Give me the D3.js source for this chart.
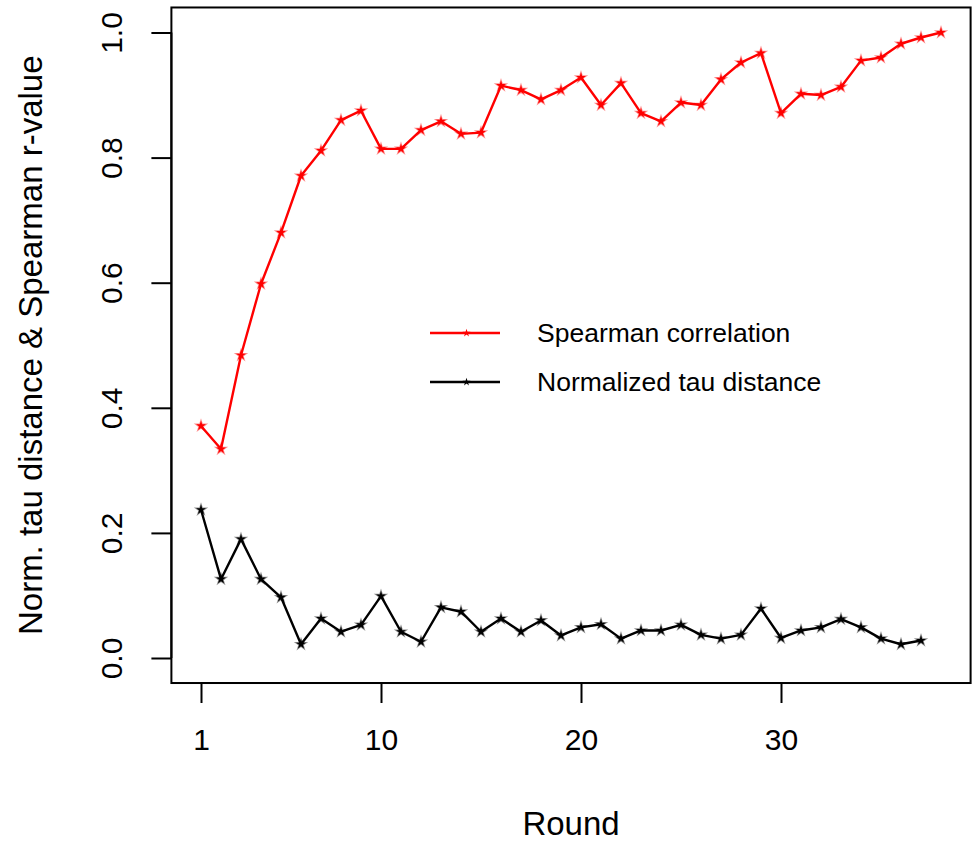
<!DOCTYPE html>
<html>
<head>
<meta charset="utf-8">
<script src="https://cdn.jsdelivr.net/npm/d3@7"></script>
<style>
  html, body { margin: 0; padding: 0; background: #fff; }
  svg { display: block; }
  text { font-family: "Liberation Sans", Arial, Helvetica, sans-serif; fill: #000; }
</style>
</head>
<body>
<svg id="chart" width="972" height="841"></svg>
<script>
// ---- data ----
const rounds = d3.range(1, 39); // 1..38
const spearman = [0.371, 0.334, 0.484, 0.598, 0.680, 0.771, 0.811, 0.860, 0.875, 0.814,
                  0.814, 0.844, 0.858, 0.838, 0.840, 0.915, 0.908, 0.893, 0.908, 0.928,
                  0.884, 0.919, 0.871, 0.858, 0.888, 0.884, 0.925, 0.952, 0.967, 0.871,
                  0.902, 0.900, 0.913, 0.955, 0.960, 0.982, 0.992, 1.000];
const tauDist = [0.237, 0.126, 0.190, 0.126, 0.097, 0.022, 0.063, 0.042, 0.053, 0.099,
                 0.042, 0.026, 0.081, 0.074, 0.042, 0.063, 0.042, 0.060, 0.036, 0.049,
                 0.054, 0.031, 0.044, 0.044, 0.053, 0.037, 0.031, 0.037, 0.079, 0.032,
                 0.044, 0.049, 0.062, 0.049, 0.031, 0.022, 0.028];
const xTicks = [1, 10, 20, 30];
const yTicks = [0, 0.2, 0.4, 0.6, 0.8, 1.0];
const seriesNames = ["Spearman correlation", "Normalized tau distance"];
const seriesColors = ["#ff0000", "#000000"];
const xLabel = "Round";
const yLabel = "Norm. tau distance & Spearman r-value";

// ---- scales ----
const svg = d3.select("#chart");
const x = d3.scaleLinear().domain([1, 38]).range([201, 941]);
const y = d3.scaleLinear().domain([0, 1]).range([658, 32.5]);
const xPad = 37 * 0.04, yPad = 0.04;
const boxL = x(1 - xPad), boxR = x(38 + xPad), boxT = y(1 + yPad), boxB = y(0 - yPad);

const fontTick = 30, fontLab = 33, fontLeg = 26.5;

// box
svg.append("rect")
  .attr("x", boxL).attr("y", boxT)
  .attr("width", boxR - boxL).attr("height", boxB - boxT)
  .attr("fill", "none").attr("stroke", "#000").attr("stroke-width", 2);

// x axis
const gx = svg.append("g").attr("transform", `translate(0,${boxB})`)
  .call(d3.axisBottom(x).tickValues(xTicks).tickFormat(d3.format("d")).tickSize(20).tickPadding(26));
gx.select(".domain").attr("d", `M${x(1)},0H${x(30)}`).attr("stroke-width", 2);
gx.selectAll(".tick line").attr("stroke-width", 2);
gx.selectAll(".tick text").attr("font-size", fontTick).attr("font-family", null);

// y axis (rotated labels, R style)
const gy = svg.append("g").attr("transform", `translate(${boxL},0)`)
  .call(d3.axisLeft(y).tickValues(yTicks).tickFormat(d3.format(".1f")).tickSize(20));
gy.select(".domain").attr("d", `M0,${y(0)}V${y(1)}`).attr("stroke-width", 2);
gy.selectAll(".tick line").attr("stroke-width", 2);
gy.selectAll(".tick text")
  .attr("font-size", fontTick).attr("font-family", null)
  .attr("x", null).attr("dy", null)
  .attr("text-anchor", "middle")
  .attr("transform", `translate(${122 - boxL},0) rotate(-90)`);

// axis titles
svg.append("text")
  .attr("x", (boxL + boxR) / 2).attr("y", 835)
  .attr("text-anchor", "middle").attr("font-size", fontLab)
  .text(xLabel);
svg.append("text")
  .attr("transform", `translate(42,${(boxT + boxB) / 2}) rotate(-90)`)
  .attr("text-anchor", "middle").attr("font-size", fontLab)
  .text(yLabel);

// series
const star = d3.symbol().type(d3.symbolStar).size(30);
const seriesData = [spearman, tauDist];
seriesData.forEach((vals, k) => {
  const pts = vals.map((v, i) => [rounds[i], v]);
  svg.append("path")
    .datum(pts)
    .attr("fill", "none")
    .attr("stroke", seriesColors[k])
    .attr("stroke-width", 2.4)
    .attr("stroke-linejoin", "round")
    .attr("d", d3.line().x(d => x(d[0])).y(d => y(d[1])));
  svg.append("g").selectAll("path")
    .data(pts).join("path")
    .attr("transform", d => `translate(${x(d[0])},${y(d[1])})`)
    .attr("d", star)
    .attr("fill", seriesColors[k])
    .attr("stroke", seriesColors[k])
    .attr("stroke-opacity", 0.45)
    .attr("stroke-width", 1.5);
});

// legend
const legY = [333, 382];
seriesNames.forEach((name, k) => {
  const g = svg.append("g");
  g.append("line")
    .attr("x1", 430).attr("x2", 500)
    .attr("y1", legY[k]).attr("y2", legY[k])
    .attr("stroke", seriesColors[k]).attr("stroke-width", 2.4);
  g.append("path")
    .attr("transform", `translate(466.5,${legY[k]})`)
    .attr("d", d3.symbol().type(d3.symbolStar).size(20))
    .attr("fill", seriesColors[k]);
  g.append("text")
    .attr("x", 537).attr("y", legY[k])
    .attr("dy", "0.35em")
    .attr("font-size", fontLeg)
    .text(name);
});
</script>
</body>
</html>
